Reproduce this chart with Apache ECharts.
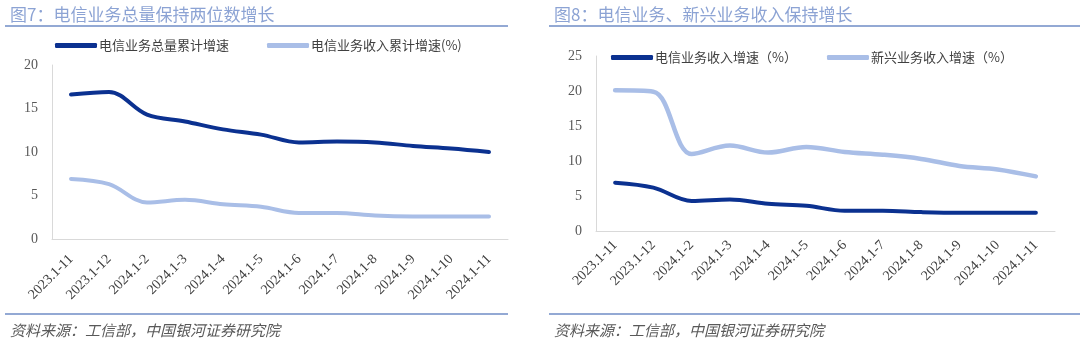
<!DOCTYPE html>
<html>
<head>
<meta charset="utf-8">
<script src="https://cdn.jsdelivr.net/npm/echarts@6/dist/echarts.min.js"></script>
<style>
html,body{margin:0;padding:0;background:#fff;}
#c{width:1080px;height:341px;}
</style>
</head>
<body>
<div id="c"></div>
<script>
// ---- data ----
var categories = ['2023.1-11','2023.1-12','2024.1-2','2024.1-3','2024.1-4','2024.1-5','2024.1-6','2024.1-7','2024.1-8','2024.1-9','2024.1-10','2024.1-11'];
// Fig 7
var telecomVolumeGrowth = [16.6, 16.9, 14.3, 13.5, 12.6, 12.0, 11.1, 11.2, 11.1, 10.7, 10.4, 10.0];
var telecomRevenueCumGrowth = [6.9, 6.3, 4.2, 4.5, 4.0, 3.7, 3.0, 3.0, 2.7, 2.6, 2.6, 2.6];
// Fig 8
var telecomRevenueGrowth = [6.9, 6.2, 4.3, 4.5, 3.9, 3.6, 2.9, 2.9, 2.7, 2.6, 2.6, 2.6];
var emergingRevenueGrowth = [20.1, 19.9, 11.0, 12.2, 11.2, 12.0, 11.3, 10.9, 10.3, 9.3, 8.8, 7.8];
var leftYTicks = [0, 20, 5];   // min, max, interval
var rightYTicks = [0, 25, 5];

var titles = ['图7：电信业务总量保持两位数增长', '图8：电信业务、新兴业务收入保持增长'];
var sourceText = '资料来源：工信部，中国银河证券研究院';
var legendLeft = ['电信业务总量累计增速', '电信业务收入累计增速(%)'];
var legendRight = ['电信业务收入增速（%）', '新兴业务收入增速（%）'];

var DARK = '#0B3190';
var LIGHT = '#A9BEE7';
var FONT = '"Liberation Serif", "Noto Sans CJK SC", serif';
var CJK = '"Noto Sans CJK SC", sans-serif';

var chart = echarts.init(document.getElementById('c'), null, {renderer: 'canvas'});

function xAxis(gi, margin) {
  return {
    type: 'category', gridIndex: gi, data: categories, boundaryGap: true,
    axisLine: {show: true, lineStyle: {color: '#D9D9D9', width: 1}},
    axisTick: {show: false},
    axisLabel: {rotate: 45, interval: 0, margin: margin, color: '#404040', fontSize: 14, fontFamily: FONT}
  };
}
function yAxis(gi, t) {
  return {
    type: 'value', gridIndex: gi, min: t[0], max: t[1], interval: t[2],
    axisLine: {show: true, lineStyle: {color: '#D9D9D9', width: 1}},
    axisTick: {show: false},
    splitLine: {show: false},
    axisLabel: {margin: 14, color: '#595959', fontSize: 14, fontFamily: FONT}
  };
}
function line(name, data, gi, color, w) {
  return {
    name: name, type: 'line', xAxisIndex: gi, yAxisIndex: gi, data: data,
    smooth: 0.35, symbol: 'none',
    lineStyle: {color: color, width: w, cap: 'round', join: 'round'},
    itemStyle: {color: color}
  };
}

var option = {
  animation: false,
  backgroundColor: '#fff',
  title: [
    {text: titles[0], left: 5, top: 1, textStyle: {color: '#8CA3D4', fontSize: 17, fontWeight: 'normal', fontFamily: CJK}},
    {text: titles[1], left: 549, top: 1, textStyle: {color: '#8CA3D4', fontSize: 17, fontWeight: 'normal', fontFamily: CJK}},
    {text: sourceText, left: 5, top: 318, textStyle: {color: '#595959', fontSize: 15, fontWeight: 'normal', fontStyle: 'italic', fontFamily: CJK}},
    {text: sourceText, left: 549, top: 318, textStyle: {color: '#595959', fontSize: 15, fontWeight: 'normal', fontStyle: 'italic', fontFamily: CJK}}
  ],
  graphic: [
    {type: 'line', shape: {x1: 5, y1: 26, x2: 508, y2: 26}, style: {stroke: '#6F8CC6', lineWidth: 1.5}},
    {type: 'line', shape: {x1: 549, y1: 26, x2: 1080, y2: 26}, style: {stroke: '#6F8CC6', lineWidth: 1.5}},
    {type: 'line', shape: {x1: 5, y1: 314, x2: 508, y2: 314}, style: {stroke: '#6F8CC6', lineWidth: 1.5}},
    {type: 'line', shape: {x1: 549, y1: 314, x2: 1080, y2: 314}, style: {stroke: '#6F8CC6', lineWidth: 1.5}}
  ],
  legend: [
    {data: legendLeft, left: 50, top: 34, itemWidth: 42, itemHeight: 5, itemGap: 38, icon: 'roundRect',
     textStyle: {color: '#404040', fontSize: 13, fontFamily: CJK, padding: [0, 0, 0, -3]}},
    {data: legendRight, left: 606, top: 46, itemWidth: 42, itemHeight: 5, itemGap: 30, icon: 'roundRect',
     textStyle: {color: '#404040', fontSize: 13, fontFamily: CJK, padding: [0, 0, 0, -3]}}
  ],
  grid: [
    {left: 52, right: 572, top: 65, bottom: 102},
    {left: 596, right: 25, top: 56, bottom: 110}
  ],
  xAxis: [xAxis(0, 18), xAxis(1, 12)],
  yAxis: [yAxis(0, leftYTicks), yAxis(1, rightYTicks)],
  series: [
    line(legendLeft[0], telecomVolumeGrowth, 0, DARK, 4),
    line(legendLeft[1], telecomRevenueCumGrowth, 0, LIGHT, 4),
    line(legendRight[0], telecomRevenueGrowth, 1, DARK, 4),
    line(legendRight[1], emergingRevenueGrowth, 1, LIGHT, 4.5)
  ]
};
chart.setOption(option);
</script>
</body>
</html>
